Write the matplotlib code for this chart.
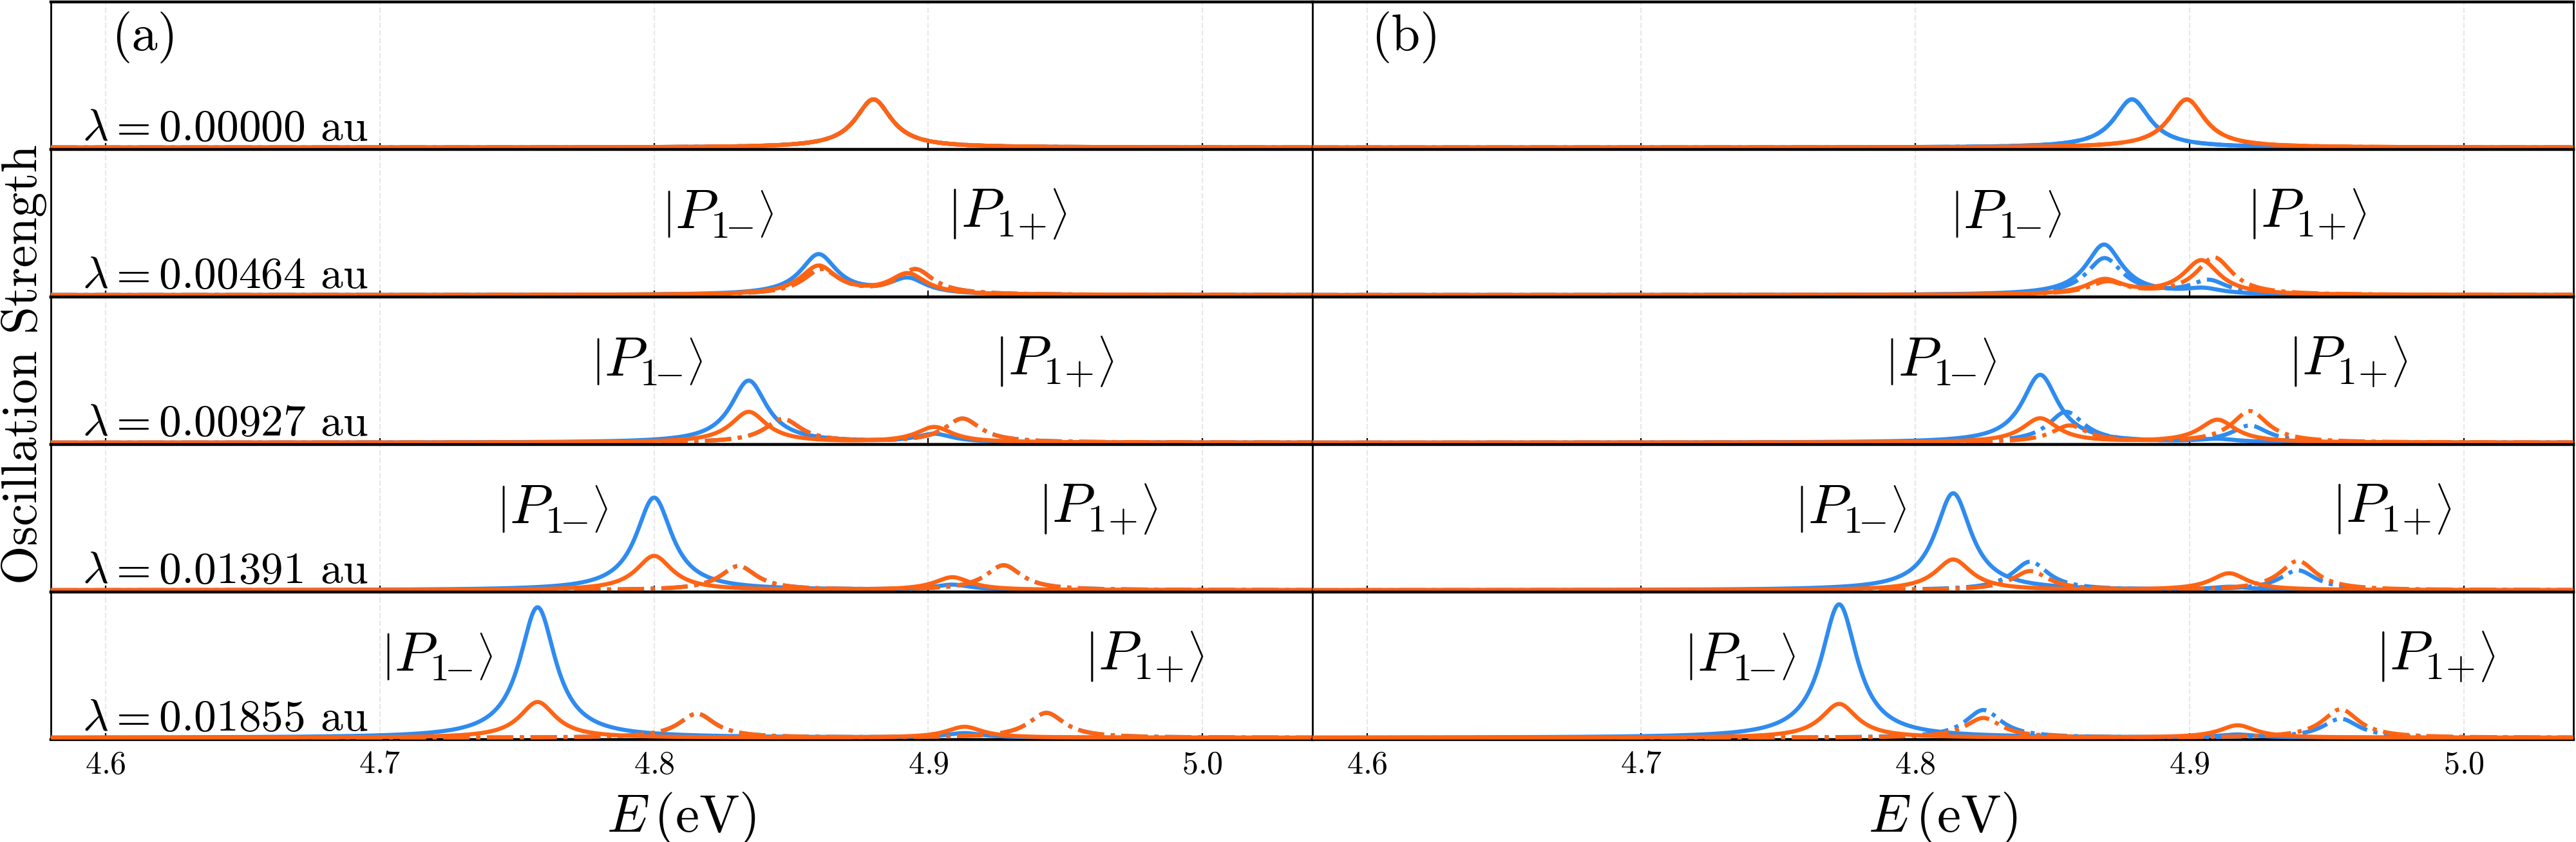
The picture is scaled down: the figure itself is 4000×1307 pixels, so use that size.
import numpy as np
import matplotlib.pyplot as plt

plt.rcParams['font.family'] = 'serif'
plt.rcParams['font.serif'] = ['cmr10']
plt.rcParams['mathtext.fontset'] = 'cm'
plt.rcParams['axes.formatter.use_mathtext'] = True
plt.rcParams['axes.unicode_minus'] = False

BLUE = '#2F8BEF'
ORANGE = '#FF6414'

lambdas = ['0.00000', '0.00464', '0.00927', '0.01391', '0.01855']
xticks = [4.6, 4.7, 4.8, 4.9, 5.0]

# peak energies (eV) and peak oscillation strengths, one list per lambda
# panel (a)
a_blue_E = [[4.880], [4.8600, 4.8925], [4.8345, 4.9022], [4.8000, 4.9088], [4.7575, 4.9132]]
a_blue_f = [[0.33], [0.275, 0.105], [0.425, 0.055], [0.635, 0.035], [0.895, 0.030]]
a_orange_E = [[4.880], [4.8600, 4.8925], [4.8345, 4.9022], [4.8000, 4.9088], [4.7575, 4.9132]]
a_orange_f = [[0.33], [0.195, 0.140], [0.210, 0.105], [0.235, 0.088], [0.245, 0.075]]
a_dash_E = [[4.880], [4.8610, 4.8953], [4.8470, 4.9125], [4.8308, 4.9275], [4.8156, 4.9431]]
a_dash_f = [[0.33], [0.170, 0.170], [0.160, 0.163], [0.165, 0.170], [0.165, 0.170]]

# panel (b)
b_blue_E = [[4.879], [4.8688, 4.9050], [4.8455, 4.9100], [4.8138, 4.9150], [4.7722, 4.9175]]
b_blue_f = [[0.33], [0.345, 0.035], [0.465, 0.020], [0.665, 0.020], [0.915, 0.020]]
b_orange_E = [[4.899], [4.8690, 4.9043], [4.8455, 4.9102], [4.8138, 4.9144], [4.7722, 4.9175]]
b_orange_f = [[0.33], [0.100, 0.235], [0.165, 0.155], [0.210, 0.115], [0.232, 0.085]]
b_blue_dash_E = [[4.879], [4.8690, 4.9070], [4.8550, 4.9220], [4.8419, 4.9395], [4.8248, 4.9551]]
b_blue_dash_f = [[0.33], [0.250, 0.095], [0.210, 0.115], [0.195, 0.135], [0.190, 0.130]]
b_orange_dash_E = [[4.899], [4.8700, 4.9090], [4.8563, 4.9220], [4.8419, 4.9395], [4.8248, 4.9551]]
b_orange_dash_f = [[0.33], [0.085, 0.255], [0.115, 0.215], [0.130, 0.200], [0.135, 0.195]]

# label x positions (eV) for |P1-> and |P1+>
a_pm_x = [None, 4.803, 4.777, 4.7425, 4.7006]
a_pp_x = [None, 4.907, 4.924, 4.940, 4.957]
b_pm_x = [None, 4.8126, 4.789, 4.756, 4.7156]
b_pp_x = [None, 4.921, 4.936, 4.952, 4.968]

gamma = 0.008
E = np.linspace(4.5, 5.1, 4000)


def spectrum(centers, heights):
    s = np.zeros_like(E)
    for c, h in zip(centers, heights):
        s += h * gamma**2 / ((E - c)**2 + gamma**2)
    return s


fig, axes = plt.subplots(5, 2, figsize=(20, 6.535), dpi=200, sharex=True, sharey=True)
fig.subplots_adjust(left=0.01975, right=0.999, top=0.998, bottom=0.1217, hspace=0, wspace=0)

panels = [
    (a_blue_E, a_blue_f, a_orange_E, a_orange_f, a_dash_E, a_dash_f, a_dash_E, a_dash_f, a_pm_x, a_pp_x),
    (b_blue_E, b_blue_f, b_orange_E, b_orange_f, b_blue_dash_E, b_blue_dash_f,
     b_orange_dash_E, b_orange_dash_f, b_pm_x, b_pp_x),
]

lw = 2.3
pm_txt = r'$\left|P_{1\!\!-}\!\right\rangle$'
pp_txt = r'$\left|P_{1\!+}\!\right\rangle$'

for col, p in enumerate(panels):
    bE, bf, oE, of, bdE, bdf, odE, odf, pm_x, pp_x = p
    for row in range(5):
        ax = axes[row, col]
        ax.plot(E, spectrum(bE[row], bf[row]), color=BLUE, lw=lw, zorder=3)
        ax.plot(E, spectrum(bdE[row], bdf[row]), color=BLUE, lw=lw, ls='-.', zorder=3)
        ax.plot(E, spectrum(oE[row], of[row]), color=ORANGE, lw=lw, zorder=3)
        ax.plot(E, spectrum(odE[row], odf[row]), color=ORANGE, lw=lw, ls='-.', zorder=3)

        ax.set_xlim(4.58, 5.04)
        ax.set_ylim(-0.012, 1.0)
        ax.set_xticks(xticks)
        ax.set_yticks([])
        ax.tick_params(axis='x', direction='in', length=3.6, width=0.8, labelsize=18, pad=6)
        ax.grid(axis='x', color='#e8e8e8', ls='--', lw=0.8)
        ax.set_axisbelow(True)
        for name, sp in ax.spines.items():
            sp.set_linewidth(1.6 if name in ('top', 'bottom') else 1.0)

        if pm_x[row] is not None:
            ax.text(pm_x[row], 0.56, pm_txt, fontsize=31,
                    ha='left', va='center', transform=ax.get_xaxis_transform())
            ax.text(pp_x[row], 0.56, pp_txt, fontsize=31,
                    ha='left', va='center', transform=ax.get_xaxis_transform())
        if col == 0:
            ax.text(0.025, 0.06, r'$\lambda = ' + lambdas[row] + r'$ au', fontsize=25,
                    ha='left', va='baseline', transform=ax.transAxes)

    axes[4, col].set_xlabel(r'$E\,(\mathrm{eV})$', fontsize=30, labelpad=6)

axes[0, 0].text(0.048, 0.76, '(a)', fontsize=29, ha='left', va='center', transform=axes[0, 0].transAxes)
axes[0, 1].text(0.047, 0.76, '(b)', fontsize=29, ha='left', va='center', transform=axes[0, 1].transAxes)

fig.text(0.0095, 0.567, 'Oscillation Strength', rotation=90, fontsize=28, ha='center', va='center')

fig.savefig('out.png', dpi=200)
